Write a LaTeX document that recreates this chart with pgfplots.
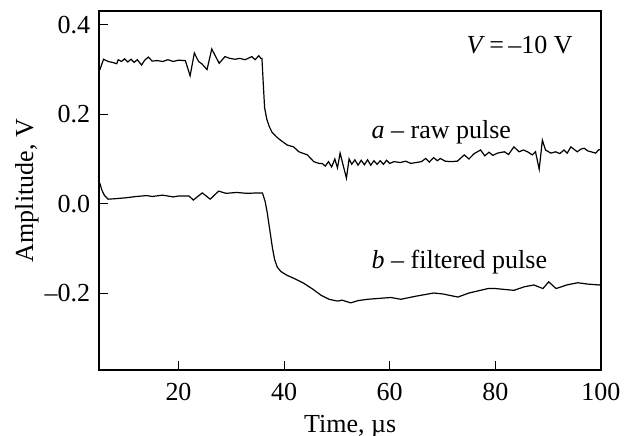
\documentclass[border=0pt]{standalone}
\usepackage{fontspec}
\setmainfont{Liberation Serif}
\usepackage{pgfplots}
\pgfplotsset{compat=1.18}

\begin{document}
\begin{tikzpicture}[font=\fontsize{13}{15.6}\selectfont]
\useasboundingbox (-49.65pt,-32.75pt) rectangle (263.9pt,185.2pt);
\begin{axis}[
  name=ax, scale only axis, width=250.9pt, height=179.7pt,
  at={(0,0)}, anchor=south west,
  xmin=5, xmax=100, ymin=-0.373, ymax=0.431,
  axis line style={line width=1pt, black},
  tick align=inside, xtick pos=bottom, ytick pos=left,
  major tick length=4.5pt,
  tick style={line width=0.5pt, black},
  xtick={20,40,60,80,100},
  xticklabels={20,40,60,80,100},
  ytick={-0.2,0,0.2,0.4},
  yticklabels={–0.2,0.0,0.2,0.4},
  /pgf/number format/assume math mode=true,
  xticklabel style={yshift=-3pt},
  yticklabel style={xshift=-1pt},
  xlabel={Time, µs}, ylabel={Amplitude, V},
  xlabel style={at={(axis description cs:0.5,-0.1739)}, anchor=base},
  ylabel style={at={(axis description cs:-0.1321,0.5)}, anchor=base},
  clip=true,
]
\addplot[black, line width=0.6pt] coordinates {
(5.1,0.299)(5.8,0.323)(6.7,0.318)(7.5,0.316)(8.3,0.313)(8.6,0.322)(9.2,0.318)(9.8,0.324)(10.4,0.317)(11,0.323)(11.6,0.316)(12.2,0.322)(13,0.310)(13.6,0.321)(14.3,0.328)(15,0.319)(16,0.320)(17,0.318)(18,0.322)(19,0.318)(20,0.321)(21.3,0.320)(22.2,0.286)(23,0.337)(23.8,0.318)(24.4,0.313)(25.4,0.300)(26.3,0.346)(27.7,0.314)(28.8,0.329)(29.7,0.325)(30.7,0.323)(31.6,0.325)(32.6,0.322)(33.9,0.329)(34.5,0.322)(35.2,0.331)(35.6,0.325)(35.8,0.325)(36.0,0.28)(36.3,0.215)(36.7,0.19)(37.2,0.172)(37.7,0.160)(38.5,0.150)(39.3,0.142)(40.6,0.131)(41.8,0.127)(42.8,0.116)(44.4,0.109)(45.6,0.094)(46.6,0.090)(47.2,0.090)(47.8,0.084)(48.4,0.094)(49,0.082)(49.6,0.100)(50.1,0.080)(50.6,0.113)(51.2,0.085)(51.8,0.057)(52.3,0.100)(52.8,0.088)(53.4,0.098)(54,0.086)(54.6,0.097)(55.2,0.087)(55.8,0.098)(56.4,0.086)(57,0.096)(57.6,0.088)(58.2,0.096)(58.8,0.088)(59.4,0.097)(60,0.090)(60.8,0.094)(62,0.092)(63,0.095)(64,0.090)(65,0.092)(66,0.094)(66.8,0.101)(67.5,0.093)(68.3,0.103)(69,0.096)(69.6,0.101)(70.5,0.095)(71.6,0.094)(72.8,0.095)(74.1,0.109)(75,0.100)(76,0.112)(77.2,0.120)(78,0.107)(78.8,0.115)(79.5,0.108)(80.4,0.113)(81.7,0.116)(82.5,0.110)(83.5,0.127)(84.5,0.116)(85.3,0.120)(86.1,0.116)(87,0.109)(87.6,0.116)(88.3,0.077)(88.9,0.142)(89.5,0.120)(90.5,0.113)(91.4,0.116)(92.2,0.112)(93,0.120)(93.6,0.113)(94.3,0.127)(95.5,0.116)(96.2,0.122)(96.8,0.124)(97.5,0.118)(98.1,0.116)(99,0.113)(99.6,0.121)(100,0.120)
};
\addplot[black, line width=0.6pt] coordinates {
(5.1,0.046)(5.5,0.03)(6,0.018)(6.7,0.010)(8,0.011)(10,0.013)(12,0.016)(14,0.018)(15,0.016)(17,0.019)(19,0.015)(20,0.017)(22,0.017)(22.8,0.008)(24.5,0.024)(26,0.010)(27.6,0.028)(29,0.023)(31,0.025)(33,0.023)(35,0.024)(35.9,0.024)(36.4,0.005)(36.8,-0.02)(37.3,-0.06)(37.8,-0.10)(38.2,-0.125)(38.7,-0.142)(39.4,-0.152)(40.5,-0.160)(42,-0.168)(43.7,-0.178)(45.5,-0.192)(47,-0.205)(48.5,-0.214)(50.1,-0.218)(51,-0.216)(52.6,-0.222)(54,-0.217)(55.8,-0.214)(58,-0.212)(60.2,-0.210)(62.1,-0.214)(65,-0.207)(68.3,-0.200)(70,-0.202)(72.9,-0.209)(75,-0.200)(78.6,-0.190)(80,-0.190)(83.5,-0.194)(85.5,-0.186)(87.3,-0.182)(89,-0.19)(90.1,-0.175)(91.5,-0.19)(93.5,-0.182)(95.6,-0.177)(97.5,-0.180)(99.6,-0.182)(100,-0.181)
};
\node[anchor=base west, inner sep=0pt] at (axis cs:74.5,0.3366) {\textit{V}\,=\,–10 V};
\node[anchor=base west, inner sep=0pt] at (axis cs:56.5,0.1463) {\textit{a} – raw pulse};
\node[anchor=base west, inner sep=0pt] at (axis cs:56.5,-0.145) {\textit{b} – filtered pulse};
\end{axis}
\end{tikzpicture}
\end{document}
